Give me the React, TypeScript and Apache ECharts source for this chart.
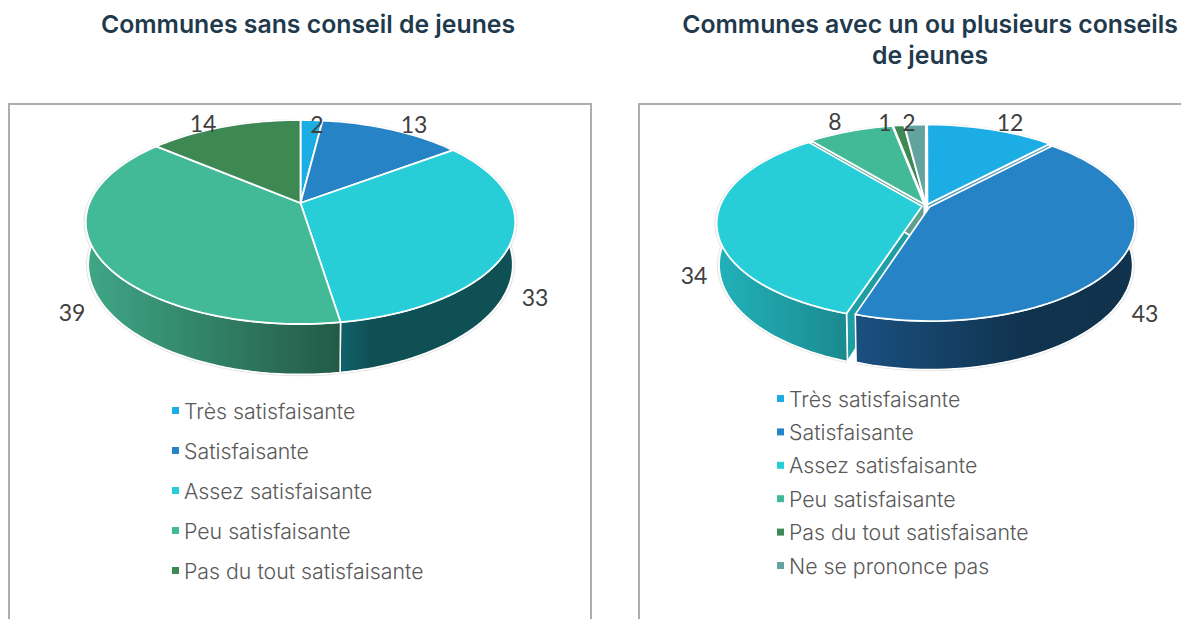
import React, { useEffect, useRef } from "react";
import * as echarts from "echarts";

const categories = ["Très satisfaisante", "Satisfaisante", "Assez satisfaisante", "Peu satisfaisante", "Pas du tout satisfaisante", "Ne se prononce pas"];
const leftValues = [2, 13, 33, 39, 14];
const rightValues = [12, 43, 34, 8, 1, 2];
const leftTitle = "Communes sans conseil de jeunes";
const rightTitle = "Communes avec un ou plusieurs conseils\nde jeunes";

const colors = ["#1CADE4", "#2683C6", "#27CED7", "#42BA97", "#3E8853", "#62A39F"];
const FONT = "Lato";
const TEXT_FONT = "Inter";

type Pie = {
  values: number[]; cx: number; cy: number; X: number; a: number; k: number; h: number; shrink: number;
  explode: number; strokeW: number; labels: number[][]; walls: Record<number, [number, string][]>; face: Record<number, string>;
};

const leftPie: Pie = {
  values: leftValues, cx: 300.5, cy: 203, X: 211, a: 98.5, k: -0.186, h: 41, shrink: 0.012, explode: 0, strokeW: 1.8,
  labels: [[317, 124], [414, 124], [535, 297], [72, 312], [203, 123]],
  walls: {
    2: [[0, "#13626a"], [0.18, "#0e5054"], [1, "#0e5054"]],
    3: [[0, "#3fa786"], [1, "#235a46"]],
  },
  face: {},
};
const rightPie: Pie = {
  values: rightValues, cx: 926, cy: 206, X: 202, a: 94, k: -0.173, h: 40, shrink: 0.012, explode: 0.02, strokeW: 1.7,
  labels: [[1010, 122], [1145, 313], [694, 275], [835, 121], [885, 122], [909, 122]],
  walls: {
    2: [[0, "#22b2ba"], [1, "#1a8a8f"]],
    1: [[0, "#1a5080"], [0.6, "#10334f"], [1, "#10324c"]],
  },
  face: { 0: "#5f9fb5", 1: "#10334f", 2: "#1f9fa3", 3: "#5f9f90" },
};

const D2R = Math.PI / 180;

function sliceShapes(pie: Pie, idx: number) {
  const total = pie.values.reduce((s, v) => s + v, 0);
  const before = pie.values.slice(0, idx).reduce((s, v) => s + v, 0);
  const t1 = (before / total) * 360;
  const t2 = ((before + pie.values[idx]) / total) * 360;
  const mid = ((t1 + t2) / 2) * D2R;
  const ox = Math.sin(mid) * pie.explode;
  const od = -Math.cos(mid) * pie.explode;

  const proj = (px: number, pd: number, drop: number) => {
    const w = 1 + pie.k * pd;
    return [pie.cx + ((pie.X * px) / w) * (1 - pie.shrink * drop), pie.cy + (pie.a * pd) / w + (drop * pie.h) / w];
  };
  const rim = (deg: number, drop: number, r = 1) => proj(r * Math.sin(deg * D2R) + ox, -r * Math.cos(deg * D2R) + od, drop);
  const apex = (drop: number) => proj(ox, od, drop);
  const arc = (from: number, to: number, drop: number, r = 1) => {
    const n = Math.max(2, Math.ceil(Math.abs(to - from) / 2));
    const out: number[][] = [];
    for (let i = 0; i <= n; i++) out.push(rim(from + ((to - from) * i) / n, drop, r));
    return out;
  };

  const top = [apex(0), ...arc(t1, t2, 0)];
  const children: any[] = [];
  const stroke = { stroke: "#ffffff", lineWidth: pie.strokeW, lineJoin: "round" };
  const edge = { stroke: "#dcdcdc", lineWidth: 0.8, fill: "none" };
  children.push({ type: "polyline", z2: 0, shape: { points: arc(t1, t2, 0, 1.008) }, style: edge });
  const faceColor = pie.face[idx];
  if (faceColor) {
    const addFace = (deg: number) =>
      children.push({ type: "polygon", z2: 1, shape: { points: [apex(0), rim(deg, 0), rim(deg, 1), apex(1)] }, style: { fill: faceColor, ...stroke } });
    if (-Math.sin(t1 * D2R) > 0) addFace(t1);
    if (Math.sin(t2 * D2R) > 0) addFace(t2);
  }
  const wallFrom = Math.max(t1, 85);
  const wallTo = Math.min(t2, 275);
  const stops = pie.walls[idx];
  if (stops && wallTo > wallFrom) {
    children.push({ type: "polyline", z2: 0, shape: { points: arc(wallFrom, wallTo, 1, 1.008) }, style: edge });
    children.push({
      type: "polygon",
      z2: 2,
      shape: { points: [...arc(wallFrom, wallTo, 0), ...arc(wallTo, wallFrom, 1)] },
      style: {
        fill: new echarts.graphic.LinearGradient(0, 0, 1, 0, stops.map(([offset, color]) => ({ offset, color }))),
        stroke: "#ffffff",
        lineWidth: 1.5,
      },
    });
  }
  children.push({ type: "polygon", z2: 3, shape: { points: top }, style: { fill: colors[idx], ...stroke } });
  const [lx, ly] = pie.labels[idx];
  children.push({
    type: "text",
    z2: 4,
    style: { text: String(pie.values[idx]), x: lx, y: ly, align: "center", verticalAlign: "middle", fontFamily: FONT, fontSize: 23, fill: "#404040" },
  });
  return children;
}

function pieSeries(pie: Pie) {
  return pie.values.map((v, idx) => ({
    type: "custom",
    name: categories[idx],
    coordinateSystem: "none",
    silent: true,
    itemStyle: { color: colors[idx] },
    data: [[v]],
    renderItem: () => ({ type: "group", children: sliceShapes(pie, idx) }),
  }));
}

const titleStyle = { fontFamily: TEXT_FONT, fontSize: 24.8, fontWeight: 600, color: "#1F3A4D", lineHeight: 31 };
const legendText = { fontFamily: TEXT_FONT, fontSize: 21.3, fontWeight: 300, color: "#595959" };
const legendBase = {
  orient: "vertical",
  icon: "rect",
  itemWidth: 7,
  itemHeight: 7,
  selectedMode: false,
  padding: 0,
  itemStyle: { borderWidth: 0 },
};
const frame = { stroke: "#ADADAD", lineWidth: 2, fill: "none" };

export default function App() {
  const ref = useRef<HTMLDivElement>(null);
  useEffect(() => {
    const chart = echarts.init(ref.current!, undefined, { renderer: "svg" });
    chart.setOption({
      animation: false,
      backgroundColor: "#ffffff",
      title: [
        { text: leftTitle, left: 308, top: 8, textAlign: "center", padding: 0, textStyle: titleStyle },
        { text: rightTitle, left: 930, top: 8, textAlign: "center", padding: 0, textStyle: titleStyle },
      ],
      legend: [
        { ...legendBase, left: 172, top: 400, itemGap: 19, data: categories.slice(0, 5), textStyle: legendText },
        { ...legendBase, left: 777, top: 388, itemGap: 12.4, data: categories, textStyle: legendText },
      ],
      graphic: [
        { type: "polyline", silent: true, shape: { points: [[9, 619], [9, 104], [591, 104], [591, 619]] }, style: frame },
        { type: "polyline", silent: true, shape: { points: [[639, 619], [639, 104], [1181, 104]] }, style: frame },
      ],
      series: [...pieSeries(leftPie), ...pieSeries(rightPie)],
    });
    return () => chart.dispose();
  }, []);
  return <div ref={ref} style={{ position: "fixed", left: 0, top: 0, width: 1181, height: 619 }} />;
}
